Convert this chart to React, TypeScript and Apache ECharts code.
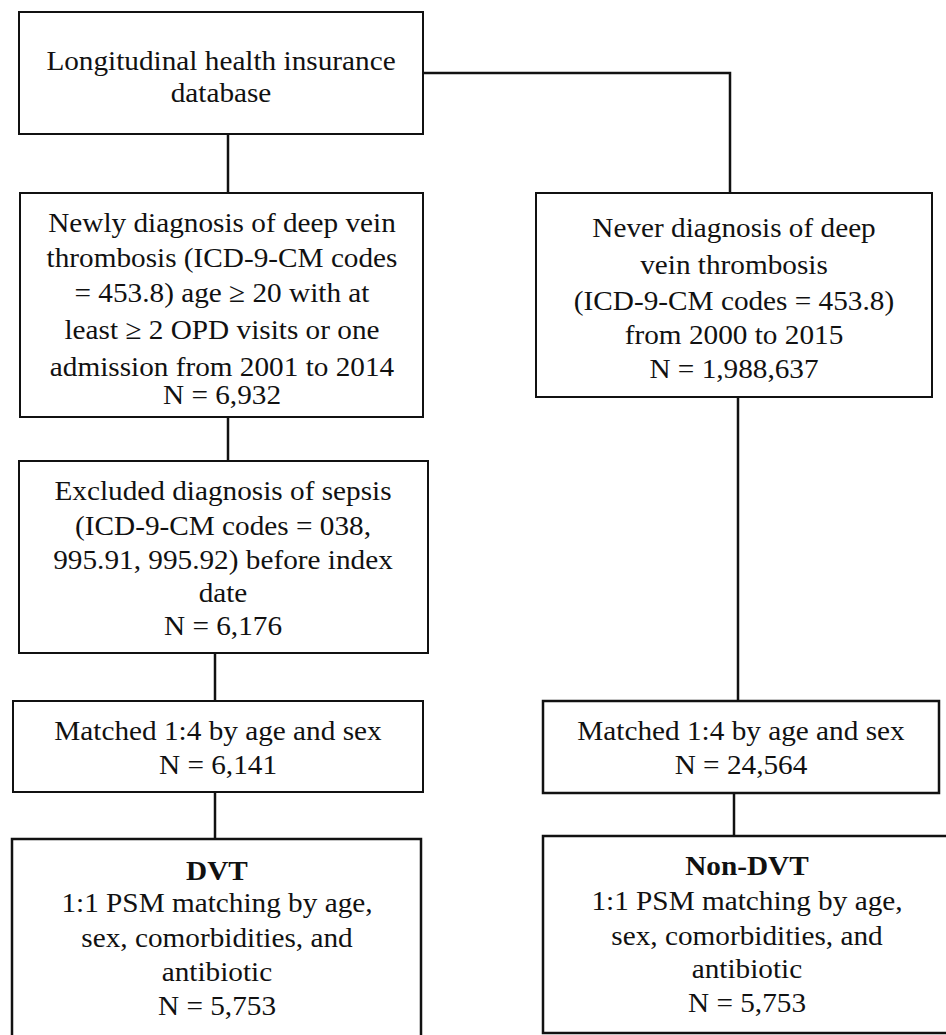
import React, { useEffect, useRef } from "react";
import * as echarts from "echarts";

// ---- Data: box texts and cohort counts ----
const dbLines = ["Longitudinal health insurance", "database"];
const dvtNewLines = [
  "Newly diagnosis of deep vein",
  "thrombosis (ICD-9-CM codes",
  "= 453.8) age \u2265 20 with at",
  "least \u2265 2 OPD visits or one",
  "admission from 2001 to 2014",
];
const neverLines = [
  "Never diagnosis of deep",
  "vein thrombosis",
  "(ICD-9-CM codes = 453.8)",
  "from 2000 to 2015",
];
const excludedLines = [
  "Excluded diagnosis of sepsis",
  "(ICD-9-CM codes = 038,",
  "995.91, 995.92) before index",
  "date",
];
const matchedLines = ["Matched 1:4 by age and sex"];
const psmLines = ["1:1 PSM matching by age,", "sex, comorbidities, and", "antibiotic"];
const groupTitles = ["DVT", "Non-DVT"];
const counts = {
  dvtNew: 6932,
  never: 1988637,
  excluded: 6176,
  matchedDvt: 6141,
  matchedNon: 24564,
  psmDvt: 5753,
  psmNon: 5753,
};

const fmtN = (n: number) => "N = " + n.toLocaleString("en-US");

// ---- Layout ----
const FONT = "'Liberation Serif', 'Times New Roman', serif";
const FS = 28;
const SX = 1.045;
const INK = "#111";
const MID = 8; // baseline -> central offset

type Line = { t: string; x: number; y: number; bold?: boolean };

function textEl(l: Line) {
  return {
    type: "text",
    x: l.x,
    y: l.y - MID,
    scaleX: SX,
    silent: true,
    style: {
      text: l.t,
      x: 0,
      y: 0,
      fill: INK,
      font: `${l.bold ? "bold " : ""}${FS}px ${FONT}`,
      align: "center",
      verticalAlign: "middle",
      textAlign: "center",
      textVerticalAlign: "middle",
    },
  };
}

function rectEl(x1: number, y1: number, x2: number, y2: number, lw = 2) {
  return {
    type: "rect",
    silent: true,
    shape: { x: x1, y: y1, width: x2 - x1, height: y2 - y1 },
    style: { fill: "#fff", stroke: INK, lineWidth: lw },
  };
}

function lineEl(pts: number[][], lw = 2.5) {
  return {
    type: "polyline",
    silent: true,
    shape: { points: pts },
    style: { fill: null, stroke: INK, lineWidth: lw },
  };
}

function linesAt(arr: string[], x: number, ys: number[]): Line[] {
  return arr.map((t, i) => ({ t, x, y: ys[i] }));
}

function buildGraphic() {
  const els: any[] = [];
  // connectors first (behind boxes)
  els.push(lineEl([[228, 134], [228, 193]]));
  els.push(lineEl([[423, 73], [730, 73], [730, 193]]));
  els.push(lineEl([[228, 417], [228, 461]]));
  els.push(lineEl([[215, 653], [215, 701]]));
  els.push(lineEl([[215, 792], [215, 839]]));
  els.push(lineEl([[738, 397], [738, 701]]));
  els.push(lineEl([[734, 793], [734, 836]]));

  // boxes
  els.push(rectEl(19, 12, 423, 134));
  els.push(rectEl(20, 193, 423, 417));
  els.push(rectEl(19, 461, 428, 653));
  els.push(rectEl(13, 701, 423, 792));
  els.push(rectEl(12, 839, 421, 1060, 2.5));
  els.push(rectEl(536, 193, 932, 397));
  els.push(rectEl(543, 701, 939, 793, 2.5));
  els.push(rectEl(543, 836, 960, 1033, 2.5));

  const lines: Line[] = [
    ...linesAt(dbLines, 221, [68, 100]),
    ...linesAt([...dvtNewLines, fmtN(counts.dvtNew)], 222, [230, 265, 300, 337, 374, 402]),
    ...linesAt([...excludedLines, fmtN(counts.excluded)], 223, [498, 533, 567, 600, 633]),
    ...linesAt([...matchedLines, fmtN(counts.matchedDvt)], 218, [738, 772]),
    { t: groupTitles[0], x: 217, y: 878, bold: true },
    ...linesAt([...psmLines, fmtN(counts.psmDvt)], 217, [910, 945, 979, 1013]),
    ...linesAt([...neverLines, fmtN(counts.never)], 734, [235, 272, 308, 342, 376]),
    ...linesAt([...matchedLines, fmtN(counts.matchedNon)], 741, [738, 772]),
    { t: groupTitles[1], x: 747, y: 873, bold: true },
    ...linesAt([...psmLines, fmtN(counts.psmNon)], 747, [908, 943, 976, 1010]),
  ];
  lines.forEach((l) => els.push(textEl(l)));
  return els;
}

export default function App() {
  const ref = useRef<HTMLDivElement>(null);
  useEffect(() => {
    if (!ref.current) return;
    const chart = echarts.init(ref.current, null, { renderer: "svg" });
    chart.setOption({
      animation: false,
      backgroundColor: "#fff",
      graphic: { elements: buildGraphic() },
    });
    return () => chart.dispose();
  }, []);
  return (
    <div
      ref={ref}
      style={{ position: "absolute", left: 0, top: 0, width: 946, height: 1035, background: "#fff" }}
    />
  );
}
